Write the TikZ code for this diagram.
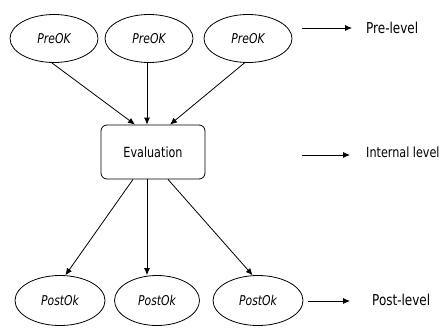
\documentclass[tikz,border=0pt]{standalone}
\usepackage{fontspec}
\setmainfont{DejaVu Sans}
\newfontfamily\narrowfont[FakeStretch=0.8]{DejaVu Sans}
\usetikzlibrary{arrows.meta,shapes.geometric}
\begin{document}
\begin{tikzpicture}[x=1pt,y=-1pt,
  okstate/.style={draw,ellipse,line width=0.8pt,minimum width=88pt,minimum height=48pt,inner sep=0pt,
    font=\narrowfont\fontsize{13.5}{15}\selectfont\itshape},
  evalbox/.style={draw,rounded corners=6pt,line width=0.8pt,minimum width=104pt,minimum height=54pt,
    font=\narrowfont\fontsize{14}{16}\selectfont},
  levellabel/.style={anchor=west,inner sep=0pt,font=\narrowfont\fontsize{15}{17}\selectfont},
  arr/.style={-{Latex[length=7pt,width=6pt]},line width=0.8pt}]
\useasboundingbox (0,0) rectangle (443,327);

% pre-level states
\node[okstate] (p1) at (54,38.5) {PreOK};
\node[okstate] (p2) at (149,38.5) {PreOK};
\node[okstate] (p3) at (248,38.5) {PreOK};

% evaluation step
\node[evalbox] (ev) at (153,152) {Evaluation};

% post-level states
\node[okstate,minimum width=90pt,minimum height=50pt] (q1) at (60,300.5) {PostOk};
\node[okstate,minimum width=85pt,minimum height=50pt] (q2) at (157,300.5) {PostOk};
\node[okstate,minimum width=90pt,minimum height=50pt] (q3) at (258,300.5) {PostOk};

% converging arrows into the evaluation
\draw[arr] (p1.265) -- ([xshift=-18pt]ev.north);
\draw[arr] ([xshift=-2pt]p2.south) -- ([xshift=-6pt]ev.north);
\draw[arr] (p3.262) -- ([xshift=17pt]ev.north);

% diverging arrows out of the evaluation
\draw[arr] ([xshift=-20pt]ev.south) -- (q1.78);
\draw[arr] ([xshift=-6pt]ev.south) -- ([xshift=-10pt]q2.north);
\draw[arr] ([xshift=15pt]ev.south) -- (q3.102);

% level labels
\node[levellabel] (lpre) at (366,28) {Pre-level};
\node[levellabel,font=\narrowfont\fontsize{14}{16}\selectfont] (lint) at (366,152) {Internal level};
\node[levellabel] (lpost) at (372,300) {Post-level};

\coordinate (apre) at (302,28);
\coordinate (bpre) at (352,28);
\coordinate (aint) at (302,155);
\coordinate (bint) at (350,155);
\coordinate (apost) at (308,301);
\coordinate (bpost) at (350,301);
\draw[arr] (apre) -- (bpre);
\draw[arr] (aint) -- (bint);
\draw[arr] (apost) -- (bpost);
\end{tikzpicture}
\end{document}
